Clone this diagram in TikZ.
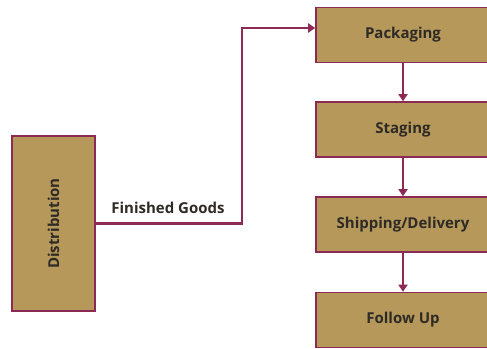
\documentclass[tikz,border=0pt]{standalone}
\usepackage{fontspec}
\setmainfont{Open Sans}
\usetikzlibrary{arrows.meta}
\definecolor{boxfill}{HTML}{B5985A}
\definecolor{maroon}{HTML}{8C2A55}
\definecolor{txt}{HTML}{2E2A26}
\begin{document}
\begin{tikzpicture}[x=1pt,y=-1pt,
  lbl/.style={text=txt,font=\fontsize{15}{17}\selectfont\bfseries},
  box/.style={draw=maroon,line width=1.6pt,fill=boxfill,inner sep=0pt,lbl},
  stepbox/.style={box,minimum width=174pt,minimum height=55pt},
  conn/.style={draw=maroon,line width=2.6pt,-{Triangle[length=7pt,width=9pt]}}]
\useasboundingbox (0,0) rectangle (487,348);
\clip (0,0) rectangle (487,348);
\node[box,minimum width=83pt,minimum height=175pt] (dist) at (53.5,223.5) {\rotatebox{90}{Distribution}};
\node[stepbox] (pack) at (403,35) {Packaging};
\node[stepbox] (stag) at (403,129.5) {Staging};
\node[stepbox] (ship) at (403,224.5) {Shipping/Delivery};
\node[stepbox] (foll) at (403,320) {Follow Up};
\coordinate (turn) at (242,223.5);
\coordinate (top) at (242,28);
\coordinate (entry) at (pack.west |- top);
\draw[conn] (dist.east) -- (turn) -- (top) -- (entry);
\node[lbl,anchor=base] (fg) at (168,213) {Finished Goods};
\draw[conn] (pack) -- (stag);
\draw[conn] (stag) -- (ship);
\draw[conn] (ship) -- (foll);
\end{tikzpicture}
\end{document}
